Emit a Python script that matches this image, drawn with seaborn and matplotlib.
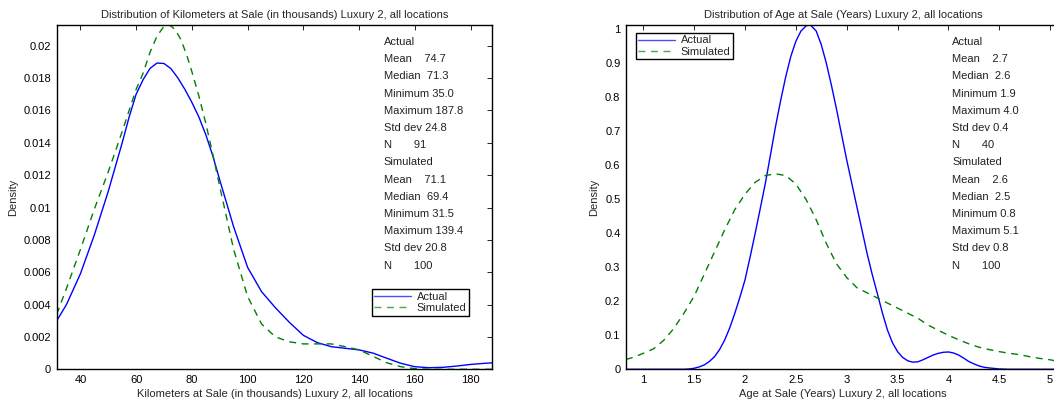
import matplotlib
matplotlib.use("Agg")
import matplotlib.pyplot as plt
import seaborn as sns
import pandas as pd

# ---------------- data ----------------
km_actual_x = [31.5, 35, 40, 45, 50, 55, 57.5, 60, 62.5, 65, 67.5, 70, 72.5, 75, 77.5, 80,
               82.5, 85, 87.5, 90, 95, 100, 105, 110, 115, 120, 125, 130, 135, 140, 145,
               150, 155, 160, 165, 170, 175, 180, 185, 187.8]
km_actual = [0.0030, 0.0040, 0.0059, 0.0083, 0.0110, 0.0140, 0.0156, 0.0170, 0.0179, 0.0186,
             0.01893, 0.0189, 0.01858, 0.0180, 0.0173, 0.01650, 0.0156, 0.0145, 0.0132,
             0.0117, 0.0088, 0.0063, 0.0048, 0.0038, 0.0029, 0.0021, 0.00165, 0.0014,
             0.0013, 0.0012, 0.0010, 0.00068, 0.00037, 0.00016, 0.0001, 0.00012, 0.0002,
             0.0003, 0.00037, 0.0004]
km_sim_x = [31.5, 35, 40, 45, 50, 55, 60, 62.5, 65, 67.5, 70, 72, 74, 76, 78, 80, 82.5, 85,
            87.5, 90, 95, 100, 105, 110, 115, 120, 125, 130, 135, 140, 145, 150, 155, 160,
            165, 170, 175, 180, 185, 187.8]
km_sim = [0.0034, 0.0050, 0.0074, 0.0099, 0.0122, 0.0147, 0.0173, 0.0183, 0.0196, 0.0206,
          0.0212, 0.02128, 0.0210, 0.0204, 0.0195, 0.0184, 0.0169, 0.0152, 0.0133, 0.0113,
          0.0074, 0.0045, 0.0028, 0.0020, 0.0017, 0.00157, 0.00157, 0.00157, 0.0014,
          0.0012, 0.0008, 0.0004, 0.00016, 0.00004, 0.0, 0.0, 0.0, 0.0, 0.0, 0.0]

age_actual_x = [0.83, 1.0, 1.2, 1.4, 1.45, 1.5, 1.55, 1.6, 1.65, 1.7, 1.75, 1.8, 1.85, 1.9,
                1.95, 2.0, 2.05, 2.1, 2.15, 2.2, 2.25, 2.3, 2.35, 2.4, 2.45, 2.5, 2.55, 2.6,
                2.63, 2.65, 2.7, 2.75, 2.8, 2.85, 2.9, 2.95, 3.0, 3.05, 3.1, 3.15, 3.2,
                3.25, 3.3, 3.35, 3.4, 3.45, 3.5, 3.55, 3.6, 3.65, 3.7, 3.75, 3.8, 3.85,
                3.9, 3.95, 4.0, 4.05, 4.1, 4.15, 4.2, 4.25, 4.3, 4.35, 4.4, 4.5, 4.6, 5.1]
age_actual = [0.0, 0.0, 0.0, 0.0, 0.001, 0.003, 0.007, 0.013, 0.023, 0.037, 0.058, 0.086,
              0.122, 0.165, 0.212, 0.263, 0.33, 0.40, 0.473, 0.547, 0.63, 0.714, 0.79, 0.86,
              0.92, 0.965, 0.995, 1.010, 1.013, 1.011, 0.995, 0.955, 0.90, 0.835, 0.765,
              0.69, 0.616, 0.547, 0.478, 0.41, 0.341, 0.28, 0.224, 0.167, 0.116, 0.078,
              0.052, 0.035, 0.025, 0.021, 0.022, 0.028, 0.035, 0.042, 0.047, 0.050, 0.051,
              0.048, 0.042, 0.033, 0.023, 0.016, 0.010, 0.006, 0.004, 0.001, 0.0, 0.0]
age_sim_x = [0.83, 0.9, 1.0, 1.1, 1.2, 1.3, 1.4, 1.5, 1.6, 1.7, 1.8, 1.9, 2.0, 2.1, 2.2,
             2.3, 2.4, 2.5, 2.6, 2.7, 2.8, 2.9, 3.0, 3.1, 3.2, 3.3, 3.4, 3.5, 3.6, 3.7,
             3.8, 3.9, 4.0, 4.1, 4.2, 4.3, 4.4, 4.5, 4.6, 4.7, 4.8, 4.9, 5.0, 5.1]
age_sim = [0.029, 0.035, 0.047, 0.060, 0.085, 0.12, 0.165, 0.215, 0.28, 0.345, 0.41, 0.47,
           0.515, 0.55, 0.57, 0.575, 0.57, 0.545, 0.50, 0.44, 0.37, 0.31, 0.27, 0.24,
           0.225, 0.21, 0.195, 0.18, 0.165, 0.15, 0.13, 0.115, 0.10, 0.087, 0.075,
           0.065, 0.058, 0.052, 0.047, 0.043, 0.037, 0.032, 0.028, 0.022]

series_names = ["Actual", "Simulated"]

km_stats_actual = ["Mean    74.7", "Median  71.3", "Minimum 35.0", "Maximum 187.8",
                   "Std dev 24.8", "N       91"]
km_stats_sim = ["Mean    71.1", "Median  69.4", "Minimum 31.5", "Maximum 139.4",
                "Std dev 20.8", "N       100"]
age_stats_actual = ["Mean    2.7", "Median  2.6", "Minimum 1.9", "Maximum 4.0",
                    "Std dev 0.4", "N       40"]
age_stats_sim = ["Mean    2.6", "Median  2.5", "Minimum 0.8", "Maximum 5.1",
                 "Std dev 0.8", "N       100"]

km_xticks = [40, 60, 80, 100, 120, 140, 160, 180]
km_yticks = [0, 0.002, 0.004, 0.006, 0.008, 0.01, 0.012, 0.014, 0.016, 0.018, 0.02]
km_yticklabels = ["0", "0.002", "0.004", "0.006", "0.008", "0.01", "0.012", "0.014",
                  "0.016", "0.018", "0.02"]
age_xticks = [1, 1.5, 2, 2.5, 3, 3.5, 4, 4.5, 5]
age_xticklabels = ["1", "1.5", "2", "2.5", "3", "3.5", "4", "4.5", "5"]
age_yticks = [0, 0.1, 0.2, 0.3, 0.4, 0.5, 0.6, 0.7, 0.8, 0.9, 1]
age_yticklabels = ["0", "0.1", "0.2", "0.3", "0.4", "0.5", "0.6", "0.7", "0.8", "0.9", "1"]

km_title = "Distribution of Kilometers at Sale (in thousands) Luxury 2, all locations"
km_xlabel = "Kilometers at Sale (in thousands) Luxury 2, all locations"
age_title = "Distribution of Age at Sale (Years) Luxury 2, all locations"
age_xlabel = "Age at Sale (Years) Luxury 2, all locations"

# ---------------- style ----------------
sns.set_style("white")
plt.rcParams["font.family"] = ["Liberation Sans", "DejaVu Sans"]
FS = 8
plt.rcParams.update({
    "font.size": FS,
    "axes.edgecolor": "black",
    "axes.linewidth": 1.0,
    "xtick.direction": "in",
    "ytick.direction": "in",
    "xtick.top": True,
    "ytick.right": True,
    "xtick.major.size": 3.5,
    "ytick.major.size": 3.5,
    "xtick.major.width": 0.6,
    "ytick.major.width": 0.6,
    "xtick.color": "black",
    "ytick.color": "black",
    "xtick.labelsize": FS,
    "ytick.labelsize": FS,
})

W, H = 1054, 404
fig = plt.figure(figsize=(W / 100, H / 100), dpi=100)
ax1 = fig.add_axes([56.7 / W, (H - 369.3) / H, 435.6 / W, 344.3 / H])
ax2 = fig.add_axes([626 / W, (H - 369.3) / H, 434.3 / W, 344.3 / H])

palette = {"Actual": (0, 0, 1), "Simulated": (0, 0.5, 0)}


def make_df(xa, a, xs, s):
    return pd.concat([
        pd.DataFrame({"x": xa, "Density": a, "series": series_names[0]}),
        pd.DataFrame({"x": xs, "Density": s, "series": series_names[1]}),
    ], ignore_index=True)


def draw(ax, df, xlim, ylim, xticks, xticklabels, yticks, yticklabels, title, xlabel,
         stats_a, stats_s, legend_bbox):
    sns.lineplot(data=df, x="x", y="Density", hue="series", style="series",
                 palette=palette, dashes={"Actual": "", "Simulated": (5, 4)},
                 linewidth=1.0, ax=ax, legend=False, sort=False)
    ax.set_xlim(*xlim)
    ax.set_ylim(*ylim)
    ax.set_xticks(xticks)
    ax.set_xticklabels(xticklabels)
    ax.set_yticks(yticks)
    ax.set_yticklabels(yticklabels)
    ax.tick_params(axis="both", pad=4)
    ax.set_title(title, fontsize=FS, pad=5)
    ax.set_xlabel(xlabel, fontsize=FS, labelpad=3)
    ax.set_ylabel("Density", fontsize=FS, labelpad=4)
    for sp in ax.spines.values():
        sp.set_visible(True)
        sp.set_color("black")
    lines = ["Actual"] + stats_a + ["Simulated"] + stats_s
    y0 = 0.9506
    dy = 17.2 / 344.3
    for i, t in enumerate(lines):
        ax.text(0.751, y0 - i * dy, t, transform=ax.transAxes, fontsize=FS,
                ha="left", va="center", color="#222222")
    handles = [plt.Line2D([], [], color=(0.3, 0.3, 1.0), lw=1.0, ls="-"),
               plt.Line2D([], [], color=(0.3, 0.65, 0.3), lw=1.0, ls=(0, (5, 4)))]
    leg = ax.legend(handles, series_names, loc="upper left", bbox_to_anchor=legend_bbox,
                    bbox_transform=fig.transFigure, fontsize=FS, frameon=True,
                    fancybox=False, edgecolor="black", framealpha=1,
                    borderpad=0.25, labelspacing=0.1, handlelength=3.3,
                    handletextpad=0.5, borderaxespad=0)
    leg.get_frame().set_linewidth(1.0)


draw(ax1, make_df(km_actual_x, km_actual, km_sim_x, km_sim), (31.5, 187.8), (0, 0.02128),
     km_xticks, [str(v) for v in km_xticks], km_yticks, km_yticklabels,
     km_title, km_xlabel, km_stats_actual, km_stats_sim,
     (371.7 / W, (H - 289.3) / H))
draw(ax2, make_df(age_actual_x, age_actual, age_sim_x, age_sim), (0.83, 5.1), (0, 1.0128),
     age_xticks, age_xticklabels, age_yticks, age_yticklabels,
     age_title, age_xlabel, age_stats_actual, age_stats_sim,
     (635.7 / W, (H - 32.7) / H))

fig.savefig("out.png", dpi=100)
